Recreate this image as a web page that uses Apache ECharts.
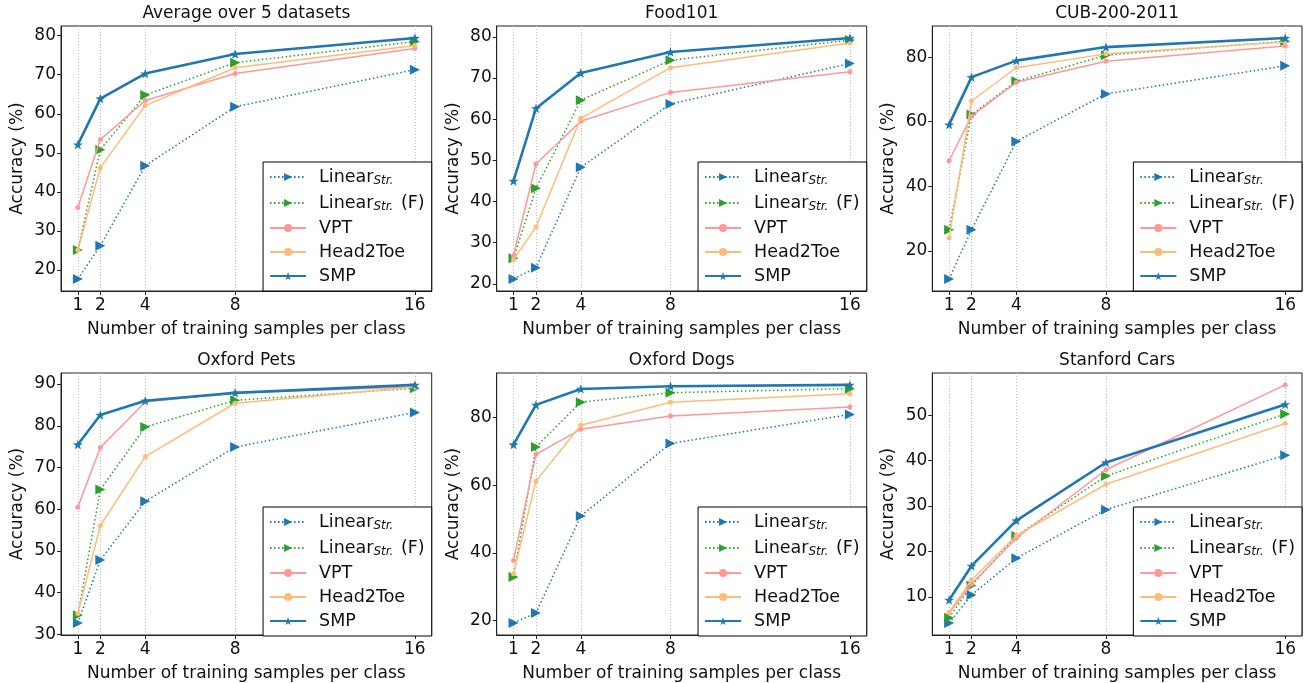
<!DOCTYPE html>
<html>
<head>
<meta charset="utf-8">
<script src="https://cdn.jsdelivr.net/npm/echarts@6/dist/echarts.min.js"></script>
<style>html,body{margin:0;padding:0;background:#fff}#c{width:1305px;height:683px}</style>
</head>
<body>
<div id="c"></div>
<script>
// ---- data ----
const xTicks = [1, 2, 4, 8, 16];
const titles = ['Average over 5 datasets', 'Food101', 'CUB-200-2011', 'Oxford Pets', 'Oxford Dogs', 'Stanford Cars'];
const methodNames = ['LinearStr', 'LinearStrF', 'VPT', 'Head2Toe', 'SMP'];
// per subplot rows, values at 1,2,4,8,16 samples
const linearStr = [
  [17.7, 26.2, 46.7, 61.8, 71.3],
  [21.2, 23.9, 48.3, 63.7, 73.5],
  [11.3, 26.5, 53.9, 68.6, 77.3],
  [32.7, 47.8, 61.9, 74.9, 83.2],
  [19.3, 22.3, 50.9, 72.3, 80.9],
  [4.2, 10.4, 18.5, 29.2, 41.2]
];
const linearStrF = [
  [25.1, 50.8, 64.8, 73.1, 78.5],
  [26.2, 43.2, 64.6, 74.3, 79.2],
  [26.5, 62.2, 72.5, 80.6, 84.9],
  [34.6, 64.7, 79.7, 86.1, 89.0],
  [32.9, 71.3, 84.5, 87.3, 88.5],
  [5.4, 12.5, 23.4, 36.6, 50.3]
];
const vpt = [
  [36.0, 53.4, 63.4, 70.3, 76.7],
  [26.9, 49.1, 59.5, 66.5, 71.5],
  [47.9, 61.7, 72.2, 78.7, 83.4],
  [60.5, 74.8, 85.7, 87.9, 89.3],
  [37.8, 69.1, 76.5, 80.4, 83.1],
  [6.4, 12.8, 22.9, 38.0, 56.7]
];
const head2toe = [
  [25.1, 46.2, 62.1, 71.8, 77.5],
  [25.9, 33.8, 60.2, 72.5, 78.5],
  [24.0, 66.4, 76.7, 81.0, 84.7],
  [35.0, 56.1, 72.6, 85.4, 89.3],
  [33.9, 61.2, 77.7, 84.5, 87.0],
  [6.6, 13.7, 23.5, 34.8, 48.2]
];
const smp = [
  [52.1, 63.9, 70.3, 75.3, 79.4],
  [45.0, 62.6, 71.2, 76.3, 79.7],
  [59.1, 73.8, 78.9, 83.1, 85.9],
  [75.5, 82.6, 86.0, 87.9, 89.8],
  [72.0, 83.7, 88.4, 89.2, 89.6],
  [9.3, 16.8, 26.8, 39.6, 52.4]
];
const yTicks = [
  [20, 30, 40, 50, 60, 70, 80],
  [20, 30, 40, 50, 60, 70, 80],
  [20, 40, 60, 80],
  [30, 40, 50, 60, 70, 80, 90],
  [20, 40, 60, 80],
  [10, 20, 30, 40, 50]
];

// ---- layout ----
const FONT = 'DejaVu Sans';
const TXT = '#111';
const FS = 17;
const cols = [{left: 61, width: 370.7}, {left: 496.7, width: 370}, {left: 932.3, width: 369.7}];
const rows = [{top: 26, height: 265}, {top: 373, height: 263}];
const starPath = 'path://M0,-10 L2.35,-3.24 L9.51,-3.09 L3.8,1.24 L5.88,8.09 L0,4 L-5.88,8.09 L-3.8,1.24 L-9.51,-3.09 L-2.35,-3.24 Z';

const grids = [], xAxes = [], yAxes = [], titleArr = [], legends = [], series = [];
const all = [linearStr, linearStrF, vpt, head2toe, smp];
const styles = [
  {color: '#1f77b4', line: {width: 1.5, type: [1.5, 2.5]}, symbol: 'triangle', size: 10, rot: -90},
  {color: '#2ca02c', line: {width: 1.5, type: [1.5, 2.5]}, symbol: 'triangle', size: 10, rot: -90},
  {color: '#ff9896', line: {width: 1.5, type: 'solid'}, symbol: 'circle', size: 5, rot: 0},
  {color: '#ffbb78', line: {width: 1.5, type: 'solid'}, symbol: 'circle', size: 5, rot: 0},
  {color: '#1f77b4', line: {width: 2.6, type: 'solid'}, symbol: starPath, size: 10, rot: 0}
];

for (let i = 0; i < 6; i++) {
  const c = cols[i % 3], r = rows[Math.floor(i / 3)];
  grids.push({left: c.left, top: r.top, width: c.width, height: r.height,
    show: true, borderColor: '#222', borderWidth: 1, backgroundColor: 'transparent'});
  let lo = Infinity, hi = -Infinity;
  all.forEach(m => m[i].forEach(v => { lo = Math.min(lo, v); hi = Math.max(hi, v); }));
  const pad = (hi - lo) * 0.05;
  xAxes.push({
    type: 'value', gridIndex: i, min: 0.25, max: 16.75,
    name: 'Number of training samples per class', nameLocation: 'middle', nameGap: 30,
    nameTextStyle: {fontFamily: FONT, fontSize: FS, color: TXT},
    axisLine: {show: true, lineStyle: {color: '#222', width: 1}},
    axisTick: {show: true, customValues: xTicks, length: 4, lineStyle: {color: '#222'}},
    axisLabel: {customValues: xTicks, fontFamily: FONT, fontSize: FS, color: TXT, margin: 6},
    splitLine: {show: true, lineStyle: {type: [1, 2], color: '#bdbdbd', width: 1}}
  });
  yAxes.push({
    type: 'value', gridIndex: i, min: lo - pad, max: hi + pad,
    name: 'Accuracy (%)', nameLocation: 'middle', nameGap: 35, nameRotate: 90,
    nameTextStyle: {fontFamily: FONT, fontSize: FS, color: TXT},
    axisLine: {show: true, lineStyle: {color: '#222', width: 1}},
    axisTick: {show: true, customValues: yTicks[i], length: 4, lineStyle: {color: '#222'}},
    axisLabel: {customValues: yTicks[i], fontFamily: FONT, fontSize: FS, color: TXT, margin: 5},
    splitLine: {show: false}
  });
  titleArr.push({
    text: titles[i], left: c.left + c.width / 2, textAlign: 'center',
    top: r.top - 21, padding: 0,
    textStyle: {fontFamily: FONT, fontSize: FS, fontWeight: 'normal', color: TXT}
  });
  legends.push({
    orient: 'vertical',
    right: 1305 - (c.left + c.width), bottom: 683 - (r.top + r.height),
    backgroundColor: '#fff', borderColor: '#000', borderWidth: 1, borderRadius: 0,
    padding: [5, 7, 6, 6], itemGap: 6, itemWidth: 36, itemHeight: 10,
    data: methodNames, selectedMode: false,
    formatter: n => n === 'LinearStr' ? '{a|Linear}{s|Str.}' :
      n === 'LinearStrF' ? '{a|Linear}{s|Str.}{a| (F)}' : '{a|' + n + '}',
    textStyle: {
      fontFamily: FONT, fontSize: 17.5, color: TXT, padding: [0, 0, 0, 8],
      rich: {
        a: {fontFamily: FONT, fontSize: 17.5, color: TXT, lineHeight: 19.5},
        s: {fontFamily: FONT, fontSize: 12, fontStyle: 'italic', color: TXT, lineHeight: 12, padding: [8, 2, 0, 0]}
      }
    }
  });
  all.forEach((m, k) => {
    const st = styles[k];
    series.push({
      name: methodNames[k], type: 'line', xAxisIndex: i, yAxisIndex: i,
      data: xTicks.map((x, j) => [x, m[i][j]]),
      color: st.color, symbol: st.symbol, symbolSize: st.size, symbolRotate: st.rot,
      symbolKeepAspect: true, showSymbol: true,
      lineStyle: {color: st.color, width: st.line.width, type: st.line.type},
      itemStyle: {color: st.color},
      emphasis: {disabled: true}, animation: false, z: 2 + k * 0.01
    });
  });
}

const chart = echarts.init(document.getElementById('c'), null, {renderer: 'canvas'});
chart.setOption({
  animation: false,
  backgroundColor: '#fff',
  title: titleArr, grid: grids, xAxis: xAxes, yAxis: yAxes, legend: legends, series: series
});
</script>
</body>
</html>
